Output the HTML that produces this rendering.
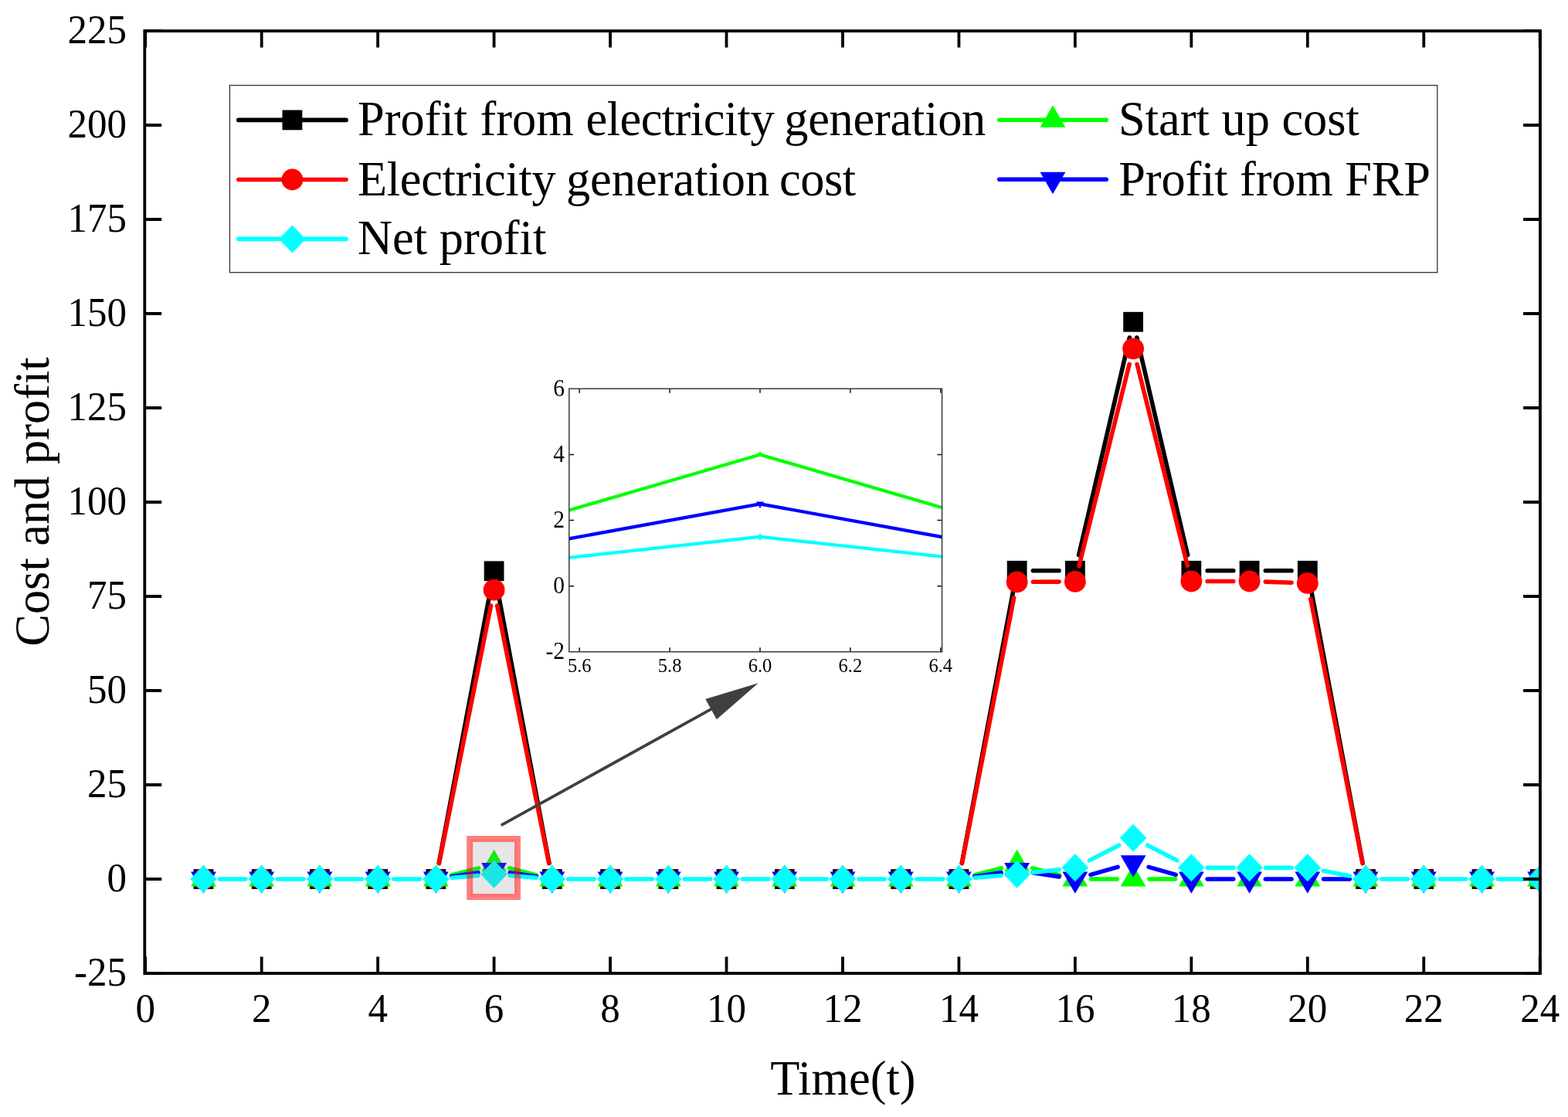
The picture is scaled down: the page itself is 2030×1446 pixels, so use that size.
<!DOCTYPE html><html><head><meta charset="utf-8"><title>Cost and profit</title><style>html,body{margin:0;padding:0;background:#fff;overflow:hidden}svg{display:block}</style></head><body><svg width="2030" height="1446" viewBox="0 0 2030 1446" font-family="Liberation Serif, 'Times New Roman', serif">
<rect width="2030" height="1446" fill="#fff"/>
<defs><clipPath id="pc"><rect x="189.20000000000002" y="42.0" width="1802.9" height="1216.1000000000001"/></clipPath><clipPath id="ic"><rect x="736.8" y="503.2" width="482.8" height="340.6"/></clipPath></defs>
<g clip-path="url(#pc)">
<path d="M568.23 1117.56L635.75 759.74M643.46 759.74L710.98 1117.56M1245.29 1117.56L1312.81 759.26M1337.46 738.82L1371.09 738.82M1396.62 718.56L1462.39 436.99M1471.85 436.99L1537.62 718.56M1563.15 738.82L1596.78 738.82M1638.38 738.82L1672.01 738.82M1696.66 759.26L1764.19 1117.56" stroke="#000000" stroke-width="5.6" stroke-linecap="round" fill="none"/>
<rect x="250.56" y="1125.1" width="25.8" height="25.8" fill="#000000"/><rect x="325.79" y="1125.1" width="25.8" height="25.8" fill="#000000"/><rect x="401.02" y="1125.1" width="25.8" height="25.8" fill="#000000"/><rect x="476.25" y="1125.1" width="25.8" height="25.8" fill="#000000"/><rect x="551.48" y="1125.1" width="25.8" height="25.8" fill="#000000"/><rect x="626.7" y="726.4" width="25.8" height="25.8" fill="#000000"/><rect x="701.93" y="1125.1" width="25.8" height="25.8" fill="#000000"/><rect x="777.16" y="1125.1" width="25.8" height="25.8" fill="#000000"/><rect x="852.39" y="1125.1" width="25.8" height="25.8" fill="#000000"/><rect x="927.62" y="1125.1" width="25.8" height="25.8" fill="#000000"/><rect x="1002.85" y="1125.1" width="25.8" height="25.8" fill="#000000"/><rect x="1078.08" y="1125.1" width="25.8" height="25.8" fill="#000000"/><rect x="1153.31" y="1125.1" width="25.8" height="25.8" fill="#000000"/><rect x="1228.54" y="1125.1" width="25.8" height="25.8" fill="#000000"/><rect x="1303.76" y="725.92" width="25.8" height="25.8" fill="#000000"/><rect x="1378.99" y="725.92" width="25.8" height="25.8" fill="#000000"/><rect x="1454.22" y="403.84" width="25.8" height="25.8" fill="#000000"/><rect x="1529.45" y="725.92" width="25.8" height="25.8" fill="#000000"/><rect x="1604.68" y="725.92" width="25.8" height="25.8" fill="#000000"/><rect x="1679.91" y="725.92" width="25.8" height="25.8" fill="#000000"/><rect x="1755.14" y="1125.1" width="25.8" height="25.8" fill="#000000"/><rect x="1830.37" y="1125.1" width="25.8" height="25.8" fill="#000000"/><rect x="1905.6" y="1125.1" width="25.8" height="25.8" fill="#000000"/><rect x="1980.83" y="1125.1" width="25.8" height="25.8" fill="#000000"/>
<path d="M568.47 1117.61L635.51 784.1M643.7 784.1L710.73 1117.61M1245.43 1117.59L1312.67 773.87M1337.46 753.32L1371.09 753.1M1396.93 732.79L1462.09 471.57M1472.16 471.56L1537.31 732.3M1563.15 752.48L1596.78 752.48M1638.37 753.15L1672.02 754.25M1696.82 775.33L1764.03 1117.59" stroke="#ff0000" stroke-width="5.6" stroke-linecap="round" fill="none"/>
<circle cx="263.46" cy="1138" r="13.9" fill="#ff0000"/><circle cx="338.69" cy="1138" r="13.9" fill="#ff0000"/><circle cx="413.92" cy="1138" r="13.9" fill="#ff0000"/><circle cx="489.15" cy="1138" r="13.9" fill="#ff0000"/><circle cx="564.38" cy="1138" r="13.9" fill="#ff0000"/><circle cx="639.6" cy="763.7" r="13.9" fill="#ff0000"/><circle cx="714.83" cy="1138" r="13.9" fill="#ff0000"/><circle cx="790.06" cy="1138" r="13.9" fill="#ff0000"/><circle cx="865.29" cy="1138" r="13.9" fill="#ff0000"/><circle cx="940.52" cy="1138" r="13.9" fill="#ff0000"/><circle cx="1015.75" cy="1138" r="13.9" fill="#ff0000"/><circle cx="1090.98" cy="1138" r="13.9" fill="#ff0000"/><circle cx="1166.21" cy="1138" r="13.9" fill="#ff0000"/><circle cx="1241.44" cy="1138" r="13.9" fill="#ff0000"/><circle cx="1316.66" cy="753.46" r="13.9" fill="#ff0000"/><circle cx="1391.89" cy="752.97" r="13.9" fill="#ff0000"/><circle cx="1467.12" cy="451.38" r="13.9" fill="#ff0000"/><circle cx="1542.35" cy="752.48" r="13.9" fill="#ff0000"/><circle cx="1617.58" cy="752.48" r="13.9" fill="#ff0000"/><circle cx="1692.81" cy="754.92" r="13.9" fill="#ff0000"/><circle cx="1768.04" cy="1138" r="13.9" fill="#ff0000"/><circle cx="1843.27" cy="1138" r="13.9" fill="#ff0000"/><circle cx="1918.5" cy="1138" r="13.9" fill="#ff0000"/><circle cx="1993.73" cy="1138" r="13.9" fill="#ff0000"/>
<path d="M584.52 1132.84L619.45 1123.89M659.75 1123.89L694.68 1132.84M1261.59 1132.84L1296.52 1123.89M1336.81 1123.89L1371.74 1132.84M1412.69 1138L1446.32 1138M1487.92 1138L1521.55 1138" stroke="#00ff00" stroke-width="5.6" stroke-linecap="round" fill="none"/>
<path d="M263.46 1119.13L279.91 1147.43L247.01 1147.43Z" fill="#00ff00"/><path d="M338.69 1119.13L355.14 1147.43L322.24 1147.43Z" fill="#00ff00"/><path d="M413.92 1119.13L430.37 1147.43L397.47 1147.43Z" fill="#00ff00"/><path d="M489.15 1119.13L505.6 1147.43L472.7 1147.43Z" fill="#00ff00"/><path d="M564.38 1119.13L580.83 1147.43L547.92 1147.43Z" fill="#00ff00"/><path d="M639.6 1099.86L656.05 1128.16L623.15 1128.16Z" fill="#00ff00"/><path d="M714.83 1119.13L731.28 1147.43L698.38 1147.43Z" fill="#00ff00"/><path d="M790.06 1119.13L806.51 1147.43L773.61 1147.43Z" fill="#00ff00"/><path d="M865.29 1119.13L881.74 1147.43L848.84 1147.43Z" fill="#00ff00"/><path d="M940.52 1119.13L956.97 1147.43L924.07 1147.43Z" fill="#00ff00"/><path d="M1015.75 1119.13L1032.2 1147.43L999.3 1147.43Z" fill="#00ff00"/><path d="M1090.98 1119.13L1107.43 1147.43L1074.53 1147.43Z" fill="#00ff00"/><path d="M1166.21 1119.13L1182.66 1147.43L1149.76 1147.43Z" fill="#00ff00"/><path d="M1241.44 1119.13L1257.89 1147.43L1224.99 1147.43Z" fill="#00ff00"/><path d="M1316.66 1099.86L1333.12 1128.16L1300.21 1128.16Z" fill="#00ff00"/><path d="M1391.89 1119.13L1408.34 1147.43L1375.44 1147.43Z" fill="#00ff00"/><path d="M1467.12 1119.13L1483.57 1147.43L1450.67 1147.43Z" fill="#00ff00"/><path d="M1542.35 1119.13L1558.8 1147.43L1525.9 1147.43Z" fill="#00ff00"/><path d="M1617.58 1119.13L1634.03 1147.43L1601.13 1147.43Z" fill="#00ff00"/><path d="M1692.81 1119.13L1709.26 1147.43L1676.36 1147.43Z" fill="#00ff00"/><path d="M1768.04 1119.13L1784.49 1147.43L1751.59 1147.43Z" fill="#00ff00"/><path d="M1843.27 1119.13L1859.72 1147.43L1826.82 1147.43Z" fill="#00ff00"/><path d="M1918.5 1119.13L1934.95 1147.43L1902.05 1147.43Z" fill="#00ff00"/><path d="M1993.73 1119.13L2010.18 1147.43L1977.28 1147.43Z" fill="#00ff00"/>
<path d="M584.94 1134.87L619.04 1129.67M660.17 1129.67L694.27 1134.87M1262 1134.87L1296.1 1129.67M1337.23 1129.67L1371.33 1134.87M1411.91 1132.35L1447.1 1122.42M1487.14 1122.42L1522.33 1132.35M1563.15 1138L1596.78 1138M1638.38 1138L1672.01 1138M1713.61 1138L1747.24 1138" stroke="#0000ff" stroke-width="5.6" stroke-linecap="round" fill="none"/>
<path d="M263.46 1156.87L279.91 1128.57L247.01 1128.57Z" fill="#0000ff"/><path d="M338.69 1156.87L355.14 1128.57L322.24 1128.57Z" fill="#0000ff"/><path d="M413.92 1156.87L430.37 1128.57L397.47 1128.57Z" fill="#0000ff"/><path d="M489.15 1156.87L505.6 1128.57L472.7 1128.57Z" fill="#0000ff"/><path d="M564.38 1156.87L580.83 1128.57L547.92 1128.57Z" fill="#0000ff"/><path d="M639.6 1145.4L656.05 1117.1L623.15 1117.1Z" fill="#0000ff"/><path d="M714.83 1156.87L731.28 1128.57L698.38 1128.57Z" fill="#0000ff"/><path d="M790.06 1156.87L806.51 1128.57L773.61 1128.57Z" fill="#0000ff"/><path d="M865.29 1156.87L881.74 1128.57L848.84 1128.57Z" fill="#0000ff"/><path d="M940.52 1156.87L956.97 1128.57L924.07 1128.57Z" fill="#0000ff"/><path d="M1015.75 1156.87L1032.2 1128.57L999.3 1128.57Z" fill="#0000ff"/><path d="M1090.98 1156.87L1107.43 1128.57L1074.53 1128.57Z" fill="#0000ff"/><path d="M1166.21 1156.87L1182.66 1128.57L1149.76 1128.57Z" fill="#0000ff"/><path d="M1241.44 1156.87L1257.89 1128.57L1224.99 1128.57Z" fill="#0000ff"/><path d="M1316.66 1145.4L1333.12 1117.1L1300.21 1117.1Z" fill="#0000ff"/><path d="M1391.89 1156.87L1408.34 1128.57L1375.44 1128.57Z" fill="#0000ff"/><path d="M1467.12 1135.64L1483.57 1107.34L1450.67 1107.34Z" fill="#0000ff"/><path d="M1542.35 1156.87L1558.8 1128.57L1525.9 1128.57Z" fill="#0000ff"/><path d="M1617.58 1156.87L1634.03 1128.57L1601.13 1128.57Z" fill="#0000ff"/><path d="M1692.81 1156.87L1709.26 1128.57L1676.36 1128.57Z" fill="#0000ff"/><path d="M1768.04 1156.87L1784.49 1128.57L1751.59 1128.57Z" fill="#0000ff"/><path d="M1843.27 1156.87L1859.72 1128.57L1826.82 1128.57Z" fill="#0000ff"/><path d="M1918.5 1156.87L1934.95 1128.57L1902.05 1128.57Z" fill="#0000ff"/><path d="M1993.73 1156.87L2010.18 1128.57L1977.28 1128.57Z" fill="#0000ff"/>
<path d="M284.26 1138L317.89 1138M359.49 1138L393.12 1138M434.72 1138L468.35 1138M509.95 1138L543.58 1138M585.1 1136.29L618.87 1133.51M660.33 1133.51L694.1 1136.29M735.63 1138L769.26 1138M810.86 1138L844.49 1138M886.09 1138L919.72 1138M961.32 1138L994.95 1138M1036.55 1138L1070.18 1138M1111.78 1138L1145.41 1138M1187.01 1138L1220.64 1138M1262.17 1136.29L1295.94 1133.51M1337.34 1129.48L1371.22 1125.68M1410.4 1113.87L1448.61 1094.29M1485.63 1094.29L1523.84 1113.87M1563.15 1123.36L1596.78 1123.36M1638.38 1123.36L1672.01 1123.36M1713.23 1127.33L1747.62 1134.03M1788.84 1138L1822.47 1138M1864.07 1138L1897.7 1138M1939.3 1138L1972.93 1138" stroke="#00ffff" stroke-width="5.6" stroke-linecap="round" fill="none"/>
<path d="M263.46 1120L280.76 1138L263.46 1156L246.16 1138Z" fill="#00ffff"/><path d="M338.69 1120L355.99 1138L338.69 1156L321.39 1138Z" fill="#00ffff"/><path d="M413.92 1120L431.22 1138L413.92 1156L396.62 1138Z" fill="#00ffff"/><path d="M489.15 1120L506.45 1138L489.15 1156L471.85 1138Z" fill="#00ffff"/><path d="M564.38 1120L581.67 1138L564.38 1156L547.08 1138Z" fill="#00ffff"/><path d="M639.6 1113.8L656.9 1131.8L639.6 1149.8L622.3 1131.8Z" fill="#00ffff"/><path d="M714.83 1120L732.13 1138L714.83 1156L697.53 1138Z" fill="#00ffff"/><path d="M790.06 1120L807.36 1138L790.06 1156L772.76 1138Z" fill="#00ffff"/><path d="M865.29 1120L882.59 1138L865.29 1156L847.99 1138Z" fill="#00ffff"/><path d="M940.52 1120L957.82 1138L940.52 1156L923.22 1138Z" fill="#00ffff"/><path d="M1015.75 1120L1033.05 1138L1015.75 1156L998.45 1138Z" fill="#00ffff"/><path d="M1090.98 1120L1108.28 1138L1090.98 1156L1073.68 1138Z" fill="#00ffff"/><path d="M1166.21 1120L1183.51 1138L1166.21 1156L1148.91 1138Z" fill="#00ffff"/><path d="M1241.44 1120L1258.74 1138L1241.44 1156L1224.14 1138Z" fill="#00ffff"/><path d="M1316.66 1113.8L1333.96 1131.8L1316.66 1149.8L1299.37 1131.8Z" fill="#00ffff"/><path d="M1391.89 1105.36L1409.19 1123.36L1391.89 1141.36L1374.59 1123.36Z" fill="#00ffff"/><path d="M1467.12 1066.81L1484.42 1084.81L1467.12 1102.81L1449.82 1084.81Z" fill="#00ffff"/><path d="M1542.35 1105.36L1559.65 1123.36L1542.35 1141.36L1525.05 1123.36Z" fill="#00ffff"/><path d="M1617.58 1105.36L1634.88 1123.36L1617.58 1141.36L1600.28 1123.36Z" fill="#00ffff"/><path d="M1692.81 1105.36L1710.11 1123.36L1692.81 1141.36L1675.51 1123.36Z" fill="#00ffff"/><path d="M1768.04 1120L1785.34 1138L1768.04 1156L1750.74 1138Z" fill="#00ffff"/><path d="M1843.27 1120L1860.57 1138L1843.27 1156L1825.97 1138Z" fill="#00ffff"/><path d="M1918.5 1120L1935.8 1138L1918.5 1156L1901.2 1138Z" fill="#00ffff"/><path d="M1993.73 1120L2011.03 1138L1993.73 1156L1976.43 1138Z" fill="#00ffff"/>
</g>
<rect x="612.2" y="1090" width="53.8" height="67" fill="rgba(128,128,128,0.2)"/><rect x="606.2" y="1084" width="65.8" height="79" fill="none" stroke="rgba(255,0,0,0.5)" stroke-width="4"/><rect x="610.2" y="1088" width="57.8" height="71" fill="none" stroke="rgba(255,0,0,0.55)" stroke-width="4"/>
<line x1="648.7" y1="1068.4" x2="922.29" y2="917.11" stroke="#404040" stroke-width="3.8"/>
<path d="M981.8 884.2L927.8 931.2L913.28 904.95Z" fill="#404040"/>
<path d="M188.23 1260.0V1238.5M188.23 40.1V61.6M338.69 1260.0V1238.5M338.69 40.1V61.6M489.15 1260.0V1238.5M489.15 40.1V61.6M639.6 1260.0V1238.5M639.6 40.1V61.6M790.06 1260.0V1238.5M790.06 40.1V61.6M940.52 1260.0V1238.5M940.52 40.1V61.6M1090.98 1260.0V1238.5M1090.98 40.1V61.6M1241.44 1260.0V1238.5M1241.44 40.1V61.6M1391.89 1260.0V1238.5M1391.89 40.1V61.6M1542.35 1260.0V1238.5M1542.35 40.1V61.6M1692.81 1260.0V1238.5M1692.81 40.1V61.6M1843.27 1260.0V1238.5M1843.27 40.1V61.6M1993.73 1260.0V1238.5M1993.73 40.1V61.6M187.3 1260H209.20000000000002M1994.0 1260H1972.1M187.3 1138H209.20000000000002M1994.0 1138H1972.1M187.3 1016H209.20000000000002M1994.0 1016H1972.1M187.3 894H209.20000000000002M1994.0 894H1972.1M187.3 772H209.20000000000002M1994.0 772H1972.1M187.3 650H209.20000000000002M1994.0 650H1972.1M187.3 528H209.20000000000002M1994.0 528H1972.1M187.3 406H209.20000000000002M1994.0 406H1972.1M187.3 284H209.20000000000002M1994.0 284H1972.1M187.3 162H209.20000000000002M1994.0 162H1972.1M187.3 40H209.20000000000002M1994.0 40H1972.1" stroke="#000" stroke-width="3.8" fill="none"/>
<rect x="187.3" y="40.1" width="1806.7" height="1219.9" fill="none" stroke="#000" stroke-width="3.8"/>
<g font-size="51"><text transform="translate(188.23 1323) scale(1 1.05)" text-anchor="middle">0</text><text transform="translate(338.69 1323) scale(1 1.05)" text-anchor="middle">2</text><text transform="translate(489.15 1323) scale(1 1.05)" text-anchor="middle">4</text><text transform="translate(639.6 1323) scale(1 1.05)" text-anchor="middle">6</text><text transform="translate(790.06 1323) scale(1 1.05)" text-anchor="middle">8</text><text transform="translate(940.52 1323) scale(1 1.05)" text-anchor="middle">10</text><text transform="translate(1090.98 1323) scale(1 1.05)" text-anchor="middle">12</text><text transform="translate(1241.44 1323) scale(1 1.05)" text-anchor="middle">14</text><text transform="translate(1391.89 1323) scale(1 1.05)" text-anchor="middle">16</text><text transform="translate(1542.35 1323) scale(1 1.05)" text-anchor="middle">18</text><text transform="translate(1692.81 1323) scale(1 1.05)" text-anchor="middle">20</text><text transform="translate(1843.27 1323) scale(1 1.05)" text-anchor="middle">22</text><text transform="translate(1993.73 1323) scale(1 1.05)" text-anchor="middle">24</text></g>
<g font-size="51"><text transform="translate(164 1275.5) scale(1 1.05)" text-anchor="end">-25</text><text transform="translate(164 1153.5) scale(1 1.05)" text-anchor="end">0</text><text transform="translate(164 1031.5) scale(1 1.05)" text-anchor="end">25</text><text transform="translate(164 909.5) scale(1 1.05)" text-anchor="end">50</text><text transform="translate(164 787.5) scale(1 1.05)" text-anchor="end">75</text><text transform="translate(164 665.5) scale(1 1.05)" text-anchor="end">100</text><text transform="translate(164 543.5) scale(1 1.05)" text-anchor="end">125</text><text transform="translate(164 421.5) scale(1 1.05)" text-anchor="end">150</text><text transform="translate(164 299.5) scale(1 1.05)" text-anchor="end">175</text><text transform="translate(164 177.5) scale(1 1.05)" text-anchor="end">200</text><text transform="translate(164 55.5) scale(1 1.05)" text-anchor="end">225</text></g>
<text x="997.2" y="1416.7" font-size="62.4">Time(t)</text>
<text transform="translate(63 836.7) rotate(-90)" font-size="62.4">Cost and profit</text>
<rect x="297.4" y="110.5" width="1563.4" height="242.2" fill="#fff" stroke="#333" stroke-width="1.3"/>
<path d="M308.8 155.4H448.0" stroke="#000000" stroke-width="5.6" stroke-linecap="round"/><rect x="365.5" y="142.5" width="25.8" height="25.8" fill="#000000"/>
<path d="M308.8 232.5H448.0" stroke="#ff0000" stroke-width="5.6" stroke-linecap="round"/><circle cx="378.4" cy="232.5" r="13.9" fill="#ff0000"/>
<path d="M308.8 309.4H448.0" stroke="#00ffff" stroke-width="5.6" stroke-linecap="round"/><path d="M378.4 291.4L395.7 309.4L378.4 327.4L361.1 309.4Z" fill="#00ffff"/>
<path d="M1293.8 155.2H1432.2" stroke="#00ff00" stroke-width="5.6" stroke-linecap="round"/><path d="M1363 136.33L1379.45 164.63L1346.55 164.63Z" fill="#00ff00"/>
<path d="M1293.8 232.3H1432.2" stroke="#0000ff" stroke-width="5.6" stroke-linecap="round"/><path d="M1363 251.17L1379.45 222.87L1346.55 222.87Z" fill="#0000ff"/>
<g font-size="62.4"><text y="175.1"><tspan x="463">Profit</tspan> <tspan x="621.5">from</tspan> <tspan x="758.5" textLength="244.1" lengthAdjust="spacing">electricity</tspan> <tspan x="1015.2" textLength="261.1" lengthAdjust="spacing">generation</tspan></text><text y="252.7"><tspan x="463" textLength="256.7" lengthAdjust="spacing">Electricity</tspan> <tspan x="732.9">generation</tspan> <tspan x="1009.1" textLength="99" lengthAdjust="spacing">cost</tspan></text><text x="463" y="329">Net profit</text><text x="1448" y="175.1">Start up cost</text><text x="1448.3" y="252.7" textLength="403.6" lengthAdjust="spacing">Profit from FRP</text></g>
<rect x="736.8" y="503.2" width="482.8" height="340.6" fill="#fff"/>
<g clip-path="url(#ic)">
<path d="M399.5 758.7L984 588.5L1568.5 758.7" stroke="#00ff00" stroke-width="4.3" fill="none" stroke-linejoin="round"/>
<path d="M399.5 758.7L984 652.33L1568.5 758.7" stroke="#0000ff" stroke-width="4.3" fill="none" stroke-linejoin="round"/>
<path d="M399.5 758.7L984 694.88L1568.5 758.7" stroke="#00ffff" stroke-width="4.3" fill="none" stroke-linejoin="round"/>
<path d="M984 583.83L988 590.83L980 590.83Z" fill="#00ff00"/>
<path d="M984 657.93L989 649.53L979 649.53Z" fill="#0000ff"/>
<path d="M984 689.88L987.5 694.88L984 699.88L980.5 694.88Z" fill="#00ffff"/>
</g>
<path d="M750.2 843.8V838.3M750.2 503.2V508.7M867.1 843.8V838.3M867.1 503.2V508.7M984 843.8V838.3M984 503.2V508.7M1100.9 843.8V838.3M1100.9 503.2V508.7M1217.8 843.8V838.3M1217.8 503.2V508.7M736.8 758.7H743M1219.6 758.7H1213.4M736.8 673.6H743M1219.6 673.6H1213.4M736.8 588.5H743M1219.6 588.5H1213.4" stroke="#111" stroke-width="1.5" fill="none"/>
<rect x="736.8" y="503.2" width="482.8" height="340.6" fill="none" stroke="#3a3a3a" stroke-width="1.5"/>
<text x="750.2" y="869.5" text-anchor="middle" font-size="24.5">5.6</text><text x="867.1" y="869.5" text-anchor="middle" font-size="24.5">5.8</text><text x="984" y="869.5" text-anchor="middle" font-size="24.5">6.0</text><text x="1100.9" y="869.5" text-anchor="middle" font-size="24.5">6.2</text><text x="1217.8" y="869.5" text-anchor="middle" font-size="24.5">6.4</text><text transform="translate(731 853.3) scale(1 1.06)" text-anchor="end" font-size="29.5">-2</text><text transform="translate(731 768.2) scale(1 1.06)" text-anchor="end" font-size="29.5">0</text><text transform="translate(731 683.1) scale(1 1.06)" text-anchor="end" font-size="29.5">2</text><text transform="translate(731 598) scale(1 1.06)" text-anchor="end" font-size="29.5">4</text><text transform="translate(731 512.9) scale(1 1.06)" text-anchor="end" font-size="29.5">6</text>
</svg></body></html>
